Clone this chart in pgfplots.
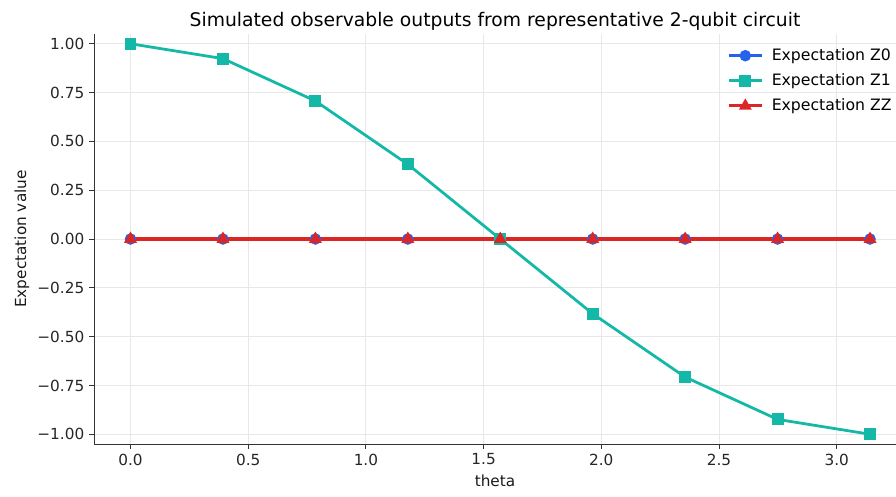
\documentclass[border=0pt]{standalone}
\usepackage{pgfplots}
\pgfplotsset{compat=1.18}
\usepackage{fontspec}
\setmainfont{DejaVu Sans}
\definecolor{zzero}{HTML}{2563EB}
\definecolor{zone}{HTML}{14B8A6}
\definecolor{zz}{HTML}{DC2626}
\definecolor{spine}{HTML}{333333}

\pgfplotstableread{
theta   z0   z1       zz
0.0000  0   1.0000    0
0.3927  0   0.9239    0
0.7854  0   0.7071    0
1.1781  0   0.3827    0
1.5708  0   0.0000    0
1.9635  0  -0.3827    0
2.3562  0  -0.7071    0
2.7489  0  -0.9239    0
3.1416  0  -1.0000    0
}\expdata

\begin{document}
\begin{tikzpicture}
\path[use as bounding box] (-67.7pt,-37.44pt) rectangle (577.4pt,319.68pt);
\begin{axis}[
  at={(0pt,0pt)}, anchor=south west,
  scale only axis, width=577.4pt, height=295.2pt,
  xmin=-0.155, xmax=3.252, ymin=-1.05, ymax=1.05,
  axis x line*=bottom, axis y line*=left,
  axis line style={spine, line width=0.7pt, -},
  xtick={0,0.5,1,1.5,2,2.5,3},
  xticklabels={0.0,0.5,1.0,1.5,2.0,2.5,3.0},
  ytick={-1,-0.75,-0.5,-0.25,0,0.25,0.5,0.75,1},
  yticklabels={−1.00,−0.75,−0.50,−0.25,0.00,0.25,0.50,0.75,1.00},
  tick align=outside, tick pos=left,
  major tick length=3.5pt,
  tick style={spine, line width=0.7pt},
  ticklabel style={font=\fontsize{11}{13}\selectfont, text=black!85},
  grid=major, grid style={gray!18, line width=0.6pt},
  xlabel={theta}, ylabel={Expectation value},
  label style={font=\fontsize{11}{13}\selectfont, text=black!90},
  xlabel style={yshift=0pt},
  ylabel style={yshift=-1pt},
  title={Simulated observable outputs from representative 2-qubit circuit},
  title style={font=\fontsize{13.5}{16}\selectfont, yshift=-7pt},
  legend style={draw=none, fill=none, at={(1,0.975)}, anchor=north east,
    font=\fontsize{11.3}{13.5}\selectfont, row sep=4pt, column sep=4pt, inner sep=1pt},
  legend cell align=left,
  legend image code/.code={\draw[mark repeat=2,mark phase=2] plot coordinates {(0cm,0cm)(0.42cm,0cm)(0.84cm,0cm)};},
]
\addplot[color=zzero, line width=2pt, mark=*, mark size=3.1pt, mark options={solid}] table[x=theta,y=z0]{\expdata};
\addlegendentry{Expectation Z0}
\addplot[color=zone, line width=2pt, mark=square*, mark size=3.3pt, mark options={solid}] table[x=theta,y=z1]{\expdata};
\addlegendentry{Expectation Z1}
\addplot[color=zz, line width=2.2pt, mark=triangle*, mark size=3.4pt, mark options={solid, line width=2pt}] table[x=theta,y=zz]{\expdata};
\addlegendentry{Expectation ZZ}
\end{axis}
\end{tikzpicture}
\end{document}
